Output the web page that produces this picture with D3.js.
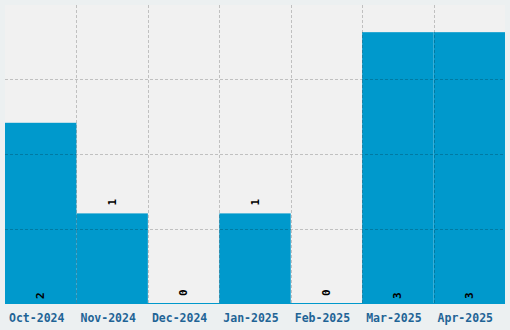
<!DOCTYPE html>
<html>
<head>
<meta charset="utf-8">
<script src="https://cdn.jsdelivr.net/npm/d3@7"></script>
<style>
  body { margin: 0; background: #ecf0f1; }
  svg { display: block; }
</style>
</head>
<body>
<div id="chart"></div>
<script>
// chart data
var months = ['Oct-2024', 'Nov-2024', 'Dec-2024', 'Jan-2025', 'Feb-2025', 'Mar-2025', 'Apr-2025'];
var counts = [2, 1, 0, 1, 0, 3, 3];

// fixed size chart
var W = 510, H = 330;
var margin = {top: 5, right: 5, bottom: 26, left: 5};
var width = W - margin.left - margin.right;
var height = H - margin.top - margin.bottom;

var data = months.map(function(m, i) { return {month: m, count: counts[i]}; });

// band per month, no padding between bars
var x = d3.scaleBand().domain(months).range([0, width]).padding(0);
// top of scale is 10% over the max value
var yMax = d3.max(counts) * 1.1;
var y = d3.scaleLinear().domain([0, yMax]).range([height, 0]);

var svg = d3.select('#chart')
  .append('svg')
  .attr('width', W)
  .attr('height', H)
.append('g')
  .attr('transform', 'translate(' + margin.left + ',' + margin.top + ')');

// plot background
svg.append('rect')
  .attr('width', width)
  .attr('height', height)
  .attr('fill', '#f1f1f1');

// bars
svg.selectAll('.bar')
  .data(data)
  .enter().append('rect')
  .attr('class', 'bar')
  .attr('x', function(d) { return x(d.month); })
  .attr('y', function(d) { return y(d.count); })
  .attr('width', x.bandwidth())
  .attr('height', function(d) { return height - y(d.count); })
  .attr('fill', '#0099cc');

// grid lines over the bars (4 even divisions)
var gridVals = d3.range(1, 4).map(function(i) { return yMax * i / 4; });
svg.selectAll('.hgrid')
  .data(gridVals)
  .enter().append('line')
  .attr('x1', 0).attr('x2', width)
  .attr('y1', function(d) { return Math.floor(y(d)) + 0.5; })
  .attr('y2', function(d) { return Math.floor(y(d)) + 0.5; })
  .attr('stroke', 'rgba(0,0,0,0.2)')
  .attr('stroke-dasharray', '3,2');

svg.selectAll('.vgrid')
  .data(months.slice(1))
  .enter().append('line')
  .attr('x1', function(d) { return Math.round(x(d)) + 0.5; })
  .attr('x2', function(d) { return Math.round(x(d)) + 0.5; })
  .attr('y1', 0).attr('y2', height)
  .attr('stroke', 'rgba(0,0,0,0.2)')
  .attr('stroke-dasharray', '3,2');

// baseline
svg.append('line')
  .attr('x1', 0).attr('x2', width)
  .attr('y1', height - 0.5).attr('y2', height - 0.5)
  .attr('stroke', '#0099cc');

// value labels, rotated; inside at the bottom for tall bars, else above the bar
svg.selectAll('.val')
  .data(data)
  .enter().append('text')
  .attr('transform', function(d) {
    var cx = x(d.month) + x.bandwidth() / 2;
    var ty = (height - y(d.count)) > 120 ? height - 5 : y(d.count) - 8;
    return 'translate(' + cx + ',' + ty + ') rotate(-90)';
  })
  .attr('text-anchor', 'start')
  .attr('dominant-baseline', 'central')
  .style('font-family', '"DejaVu Sans Mono", monospace')
  .style('font-weight', 'bold')
  .style('font-size', '11px')
  .attr('fill', '#000')
  .text(function(d) { return d.count; });

// x axis labels
var xAxis = svg.append('g')
  .attr('transform', 'translate(0,' + height + ')')
  .call(d3.axisBottom(x).tickSize(0).tickPadding(10));
xAxis.select('.domain').remove();
xAxis.selectAll('text')
  .attr('dx', '-4')
  .style('font-family', '"DejaVu Sans Mono", monospace')
  .style('font-weight', 'bold')
  .style('font-size', '11.5px')
  .attr('fill', '#1f6496');
</script>
</body>
</html>
